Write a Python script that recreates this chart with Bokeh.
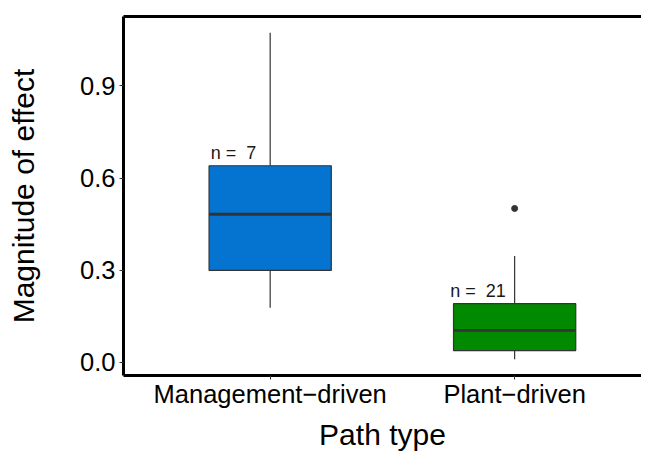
from bokeh.plotting import figure
from bokeh.models import Range1d, FixedTicker, LinearAxis, ColumnDataSource
from bokeh.core.properties import value
from bokeh.embed import file_html
from bokeh.resources import INLINE

# ---- data ----
categories = ["Management\u2212driven", "Plant\u2212driven"]
lower_whisker = [0.178, 0.010]
q1 = [0.299, 0.038]
median = [0.482, 0.104]
q3 = [0.640, 0.191]
upper_whisker = [1.073, 0.346]
outlier_category = [2]
outlier_value = [0.501]
n_obs = [7, 21]
box_colors = ["#0474D0", "#018A00"]
y_ticks = [0.0, 0.3, 0.6, 0.9]
y_tick_labels = ["0.0", "0.3", "0.6", "0.9"]

FONT = "Liberation Sans"
DARK = "#333333"

xs = [i + 1 for i in range(len(categories))]
half = 0.25

p = figure(width=641, height=454, output_backend="svg", toolbar_location=None,
           x_range=Range1d(0.4, 2.519), y_range=Range1d(-0.043, 1.126),
           min_border_left=123, min_border_right=0, min_border_top=16,
           min_border_bottom=79)
p.outline_line_color = None
p.xgrid.visible = False
p.ygrid.visible = False
p.background_fill_color = "white"
p.border_fill_color = "white"

src = ColumnDataSource(dict(
    x=xs, x0=[x - half for x in xs], x1=[x + half for x in xs],
    lw=lower_whisker, q1=q1, med=median, q3=q3, uw=upper_whisker,
    color=box_colors,
    lab=[f"n =\u00a0 {n}" for n in n_obs],
    labx=[x - 0.15 for x in xs],
    laby=[v + 0.04 for v in q3],
))

p.segment(x0="x", y0="q3", x1="x", y1="uw", source=src, line_color=DARK, line_width=1.2)
p.segment(x0="x", y0="q1", x1="x", y1="lw", source=src, line_color=DARK, line_width=1.2)
p.vbar(x="x", width=2 * half, bottom="q1", top="q3", source=src,
       fill_color="color", line_color=DARK, line_width=1.2)
p.segment(x0="x0", y0="med", x1="x1", y1="med", source=src, line_color=DARK, line_width=2.8)
p.scatter(x=outlier_category, y=outlier_value, size=6, color=DARK)
p.text(x="labx", y="laby", text="lab", source=src, text_align="center",
       text_baseline="alphabetic", text_font=value(FONT),
       text_font_size="18px", text_color="#1a1a1a")

for ax in (p.xaxis[0], p.yaxis[0]):
    ax.axis_line_width = 3
    ax.axis_line_color = "black"
    ax.major_tick_line_color = DARK
    ax.major_tick_line_width = 1
    ax.major_tick_out = 4
    ax.major_tick_in = 0
    ax.minor_tick_line_color = None
    ax.major_label_text_font = FONT
    ax.major_label_text_font_size = "25.5px"
    ax.major_label_text_color = "black"
    ax.axis_label_text_font = FONT
    ax.axis_label_text_font_size = "30px"
    ax.axis_label_text_font_style = "normal"
    ax.axis_label_text_color = "black"

p.xaxis.ticker = FixedTicker(ticks=xs)
p.xaxis.major_label_overrides = {x: c for x, c in zip(xs, categories)}
p.xaxis.axis_label = "Path type"
p.xaxis.major_label_standoff = 0
p.xaxis.axis_label_standoff = 7

p.yaxis.ticker = FixedTicker(ticks=y_ticks)
p.yaxis.major_label_overrides = {t: l for t, l in zip(y_ticks, y_tick_labels)}
p.yaxis.axis_label = "Magnitude of effect"
p.yaxis.major_label_standoff = 4
p.yaxis.axis_label_standoff = 37

top_axis = LinearAxis(ticker=FixedTicker(ticks=[]), axis_line_width=3,
                      axis_line_color="black", major_tick_line_color=None,
                      minor_tick_line_color=None)
p.add_layout(top_axis, "above")

open("out.html", "w").write(file_html(p, INLINE))
